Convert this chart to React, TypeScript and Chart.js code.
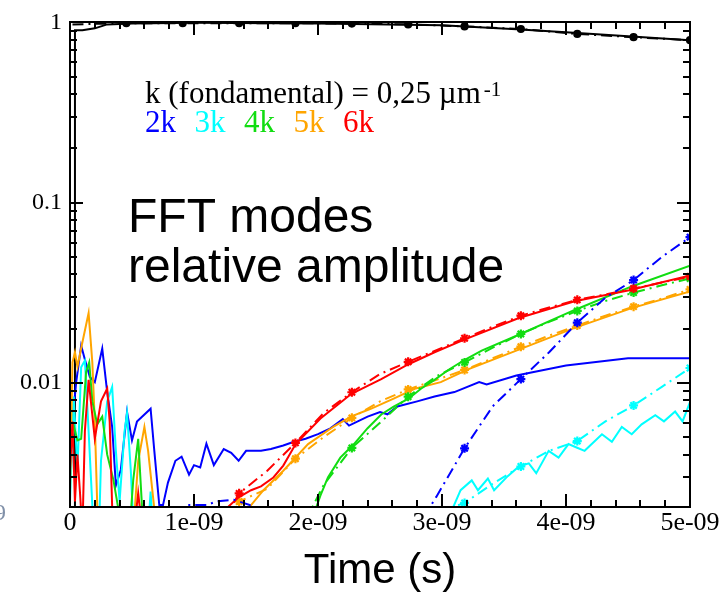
import { useEffect, useRef } from 'react';
import { Chart, registerables } from 'chart.js';

Chart.register(...registerables);

// time in ns, relative amplitude (values below the axis minimum run off the plot)
const BLACK_SOLID: [number, number][] = [
  [0.035, 0.001], [0.04, 0.904], [0.1, 0.904], [0.2, 0.927], [0.25, 0.951], [0.3, 0.975],
  [0.5, 0.987], [1.0, 0.994], [2.0, 0.987], [3.0, 0.963], [3.3, 0.939], [3.6, 0.916],
  [4.0, 0.882], [4.5, 0.839], [5.0, 0.797],
];
const BLACK_DD: [number, number][] = [
  [0.02, 0.975], [0.4545, 0.99], [0.909, 0.99], [1.364, 0.99], [1.818, 0.99], [2.273, 0.985],
  [2.727, 0.975], [3.182, 0.95], [3.636, 0.919], [4.091, 0.863], [4.545, 0.828], [5.0, 0.797],
];

const BLUE_SOLID: [number, number][] = [
  [0.0, 0.0035], [0.02, 0.0061], [0.05, 0.0101], [0.09, 0.0161], [0.12, 0.0135], [0.16, 0.0108],
  [0.2, 0.0101], [0.26, 0.0155], [0.3, 0.0089], [0.34, 0.0057], [0.37, 0.0027], [0.41, 0.0033],
  [0.46, 0.0069], [0.5, 0.0048], [0.54, 0.0061], [0.65, 0.0072], [0.68, 0.0042], [0.72, 0.0021],
  [0.75, 0.0021], [0.79, 0.0028], [0.85, 0.0037], [0.9, 0.0039], [0.96, 0.0031], [1.0, 0.0035],
  [1.05, 0.0034], [1.1, 0.0046], [1.16, 0.0035], [1.24, 0.0043], [1.3, 0.0041], [1.36, 0.0037],
  [1.42, 0.0042], [1.54, 0.0042], [1.62, 0.0043], [1.72, 0.0045], [1.8, 0.0047], [1.9, 0.0049],
  [2.0, 0.0052], [2.1, 0.0056], [2.2, 0.0063], [2.25, 0.0058], [2.4, 0.0065], [2.5, 0.0069],
  [2.56, 0.0067], [2.64, 0.0074], [2.8, 0.0079], [2.94, 0.0084], [3.1, 0.0089], [3.3, 0.0101],
  [3.36, 0.0098], [3.6, 0.011], [4.0, 0.0125], [4.5, 0.0137], [5.0, 0.0137],
];
const BLUE_DD: [number, number][] = [
  [0.88, 0.0013], [0.95, 0.0021], [1.1, 0.0021], [1.18, 0.0022], [1.32, 0.00225], [1.45, 0.0021],
  [1.5, 0.0013], [2.727, 0.0013], [2.955, 0.00234], [3.182, 0.00434], [3.409, 0.00742],
  [3.636, 0.0105], [3.864, 0.0148], [4.091, 0.0216], [4.318, 0.0297], [4.545, 0.0372],
  [4.773, 0.05], [5.0, 0.0644],
];

const CYAN_SOLID: [number, number][] = [
  [0.0, 0.0022], [0.03, 0.0084], [0.06, 0.0033], [0.09, 0.0122], [0.12, 0.0133], [0.15, 0.0054],
  [0.18, 0.0021], [0.2, 0.0012], [0.23, 0.0012], [0.25, 0.0037], [0.3, 0.0079], [0.34, 0.0095],
  [0.37, 0.0042], [0.4, 0.0022], [0.44, 0.0054], [0.46, 0.0068], [0.49, 0.0033], [0.52, 0.0012],
  [0.62, 0.0012], [0.65, 0.0025], [0.68, 0.0012], [3.0, 0.0012], [3.07, 0.0019], [3.15, 0.00254],
  [3.24, 0.00288], [3.29, 0.00254], [3.37, 0.00295], [3.42, 0.00254], [3.53, 0.00304],
  [3.62, 0.00344], [3.7, 0.00358], [3.76, 0.00316], [3.86, 0.0042], [3.94, 0.00385],
  [4.02, 0.00458], [4.09, 0.00437], [4.15, 0.0042], [4.29, 0.00519], [4.37, 0.00472],
  [4.45, 0.0057], [4.53, 0.00519], [4.61, 0.00589], [4.72, 0.00662], [4.79, 0.00612],
  [4.88, 0.00694], [4.94, 0.00612], [5.0, 0.00782],
];
const CYAN_DD: [number, number][] = [
  [2.955, 0.0019], [3.182, 0.00216], [3.409, 0.00276], [3.636, 0.00344], [3.864, 0.0042],
  [4.091, 0.00476], [4.318, 0.00612], [4.545, 0.0075], [4.773, 0.00951], [5.0, 0.0121],
];

const GREEN_SOLID: [number, number][] = [
  [0.0, 0.0048], [0.03, 0.0058], [0.06, 0.0048], [0.09, 0.0049], [0.13, 0.0115], [0.155, 0.013],
  [0.18, 0.0079], [0.22, 0.0059], [0.26, 0.0065], [0.3, 0.004], [0.35, 0.0029], [0.39, 0.002],
  [0.42, 0.0012], [0.47, 0.0012], [0.51, 0.0029], [0.55, 0.0049], [0.58, 0.0021], [0.6, 0.0012],
  [1.9, 0.0012], [1.97, 0.0019], [2.02, 0.00238], [2.08, 0.00299], [2.18, 0.00385],
  [2.29, 0.00458], [2.4, 0.00561], [2.51, 0.00668], [2.61, 0.00739], [2.73, 0.00818],
  [2.83, 0.00928], [2.94, 0.0104], [3.05, 0.0118], [3.18, 0.0134], [3.32, 0.0151],
  [3.62, 0.0185], [4.07, 0.0254], [4.53, 0.0343], [5.0, 0.0447],
];
const GREEN_DD: [number, number][] = [
  [1.818, 0.0013], [1.93, 0.0019], [2.045, 0.00271], [2.273, 0.00436], [2.5, 0.00601],
  [2.727, 0.00839], [2.955, 0.0109], [3.182, 0.013], [3.409, 0.0157], [3.636, 0.0187],
  [3.864, 0.0218], [4.091, 0.0251], [4.318, 0.0285], [4.545, 0.0317], [4.773, 0.0348], [5.0, 0.038],
];

const ORANGE_SOLID: [number, number][] = [
  [0.0, 0.0025], [0.02, 0.013], [0.04, 0.0148], [0.06, 0.0123], [0.1, 0.0168], [0.15, 0.0244],
  [0.18, 0.013], [0.2, 0.0061], [0.23, 0.0012], [0.5, 0.0012], [0.55, 0.0037], [0.6, 0.0057],
  [0.63, 0.0042], [0.68, 0.002], [0.7, 0.0012], [1.38, 0.0012], [1.46, 0.0021], [1.56, 0.00254],
  [1.72, 0.00326], [1.92, 0.00458], [2.13, 0.00575], [2.27, 0.00652], [2.43, 0.00721],
  [2.61, 0.00818], [2.78, 0.00928], [2.99, 0.0101], [3.21, 0.0119], [3.62, 0.0153],
  [4.07, 0.0202], [4.53, 0.026], [5.0, 0.0322],
];
const ORANGE_DD: [number, number][] = [
  [1.136, 0.0013], [1.364, 0.0022], [1.591, 0.00259], [1.818, 0.0038], [2.045, 0.005],
  [2.273, 0.0064], [2.5, 0.0079], [2.727, 0.0092], [2.955, 0.0104], [3.182, 0.0118],
  [3.409, 0.0137], [3.636, 0.0159], [3.864, 0.0183], [4.091, 0.0208], [4.318, 0.0236],
  [4.545, 0.0265], [4.773, 0.0294], [5.0, 0.033],
];

const RED_SOLID: [number, number][] = [
  [0.0, 0.0033], [0.02, 0.0061], [0.04, 0.0022], [0.06, 0.004], [0.08, 0.0025], [0.1, 0.0015],
  [0.12, 0.0054], [0.15, 0.0104], [0.2, 0.0049], [0.25, 0.0079], [0.3, 0.0093], [0.32, 0.0061],
  [0.35, 0.0012], [0.5, 0.0012], [0.55, 0.00245], [0.6, 0.0012], [1.2, 0.0012], [1.28, 0.00207],
  [1.36, 0.00232], [1.46, 0.00254], [1.54, 0.00267], [1.64, 0.00299], [1.72, 0.00348],
  [1.82, 0.00458], [2.02, 0.00635], [2.27, 0.00871], [2.51, 0.0105], [2.73, 0.0127],
  [2.94, 0.0148], [3.18, 0.0174], [3.62, 0.0229], [4.07, 0.0284], [4.51, 0.0327], [5.0, 0.0394],
];
const RED_DD: [number, number][] = [
  [1.136, 0.0013], [1.364, 0.00244], [1.591, 0.00326], [1.818, 0.00465], [2.045, 0.0068],
  [2.273, 0.00888], [2.5, 0.0112], [2.727, 0.0131], [2.955, 0.0152], [3.182, 0.0177],
  [3.409, 0.0205], [3.636, 0.0236], [3.864, 0.0262], [4.091, 0.0289], [4.318, 0.031],
  [4.545, 0.0334], [4.773, 0.0361], [5.0, 0.0389],
];

const X_TICKS_NS = [0, 1, 2, 3, 4, 5];
const X_TICK_LABELS = ['0', '1e-09', '2e-09', '3e-09', '4e-09', '5e-09'];
const Y_TICKS = [0.01, 0.1, 1];
const Y_TICK_LABELS = ['0.01', '0.1', '1'];
const X_TITLE = 'Time (s)';
const LEGEND_TITLE = 'k (fondamental) = 0,25 \u00b5m';
const LEGEND_SUP = '-1';
const MODE_LABELS = ['2k', '3k', '4k', '5k', '6k'];
const NOTE_LINES = ['FFT modes', 'relative amplitude'];

const BLUE = '#0000ff';
const CYAN = '#00ffff';
const GREEN = '#11dd11';
const ORANGE = '#ffa500';
const RED = '#ff0000';
const MODE_COLORS = [BLUE, CYAN, GREEN, ORANGE, RED];
const MARKER_STEP_NS = 5 / 11;
const X_MIN = 0;
const X_MAX = 5e-9;
const Y_MIN = 0.00205;
const Y_MAX = 1;

const toPoints = (arr: [number, number][]) => arr.map(([t, v]) => ({ x: t * 1e-9, y: v }));

const isMarker = (ctx: any) => {
  const raw = ctx.raw;
  if (!raw) return false;
  const k = (raw.x * 1e9) / MARKER_STEP_NS;
  return Math.round(k) > 0 && Math.abs(k - Math.round(k)) < 0.04;
};

const solid = (data: [number, number][], color: string) => ({
  data: toPoints(data),
  borderColor: color,
  backgroundColor: color,
  borderWidth: 2,
  pointRadius: 0,
  tension: 0,
});

const dashDot = (data: [number, number][], color: string, style = 'star', r = 4.5) => ({
  data: toPoints(data),
  borderColor: color,
  backgroundColor: color,
  borderWidth: 2,
  borderDash: [11, 5, 2, 5],
  pointStyle: style,
  pointRadius: (ctx: any) => (isMarker(ctx) ? r : 0),
  pointBorderWidth: 2.2,
  tension: 0,
});

const decorations = {
  id: 'decorations',
  afterDraw(chart: any) {
    const ctx = chart.ctx;
    const area = chart.chartArea;
    const L = Math.round(area.left);
    const R = Math.round(area.right);
    const T = Math.round(area.top);
    const B = Math.round(area.bottom);
    const xPix = (v: number) => {
      const p = chart.scales.x.getPixelForValue(v);
      return Number.isFinite(p) ? p : L + ((v - X_MIN) / (X_MAX - X_MIN)) * (R - L);
    };
    const yPix = (v: number) => {
      const p = chart.scales.y.getPixelForValue(v);
      if (Number.isFinite(p)) return p;
      const lo = Math.log10(Y_MIN);
      const hi = Math.log10(Y_MAX);
      return B - ((Math.log10(v) - lo) / (hi - lo)) * (B - T);
    };
    ctx.save();
    ctx.setTransform(1, 0, 0, 1, 0, 0);
    ctx.globalCompositeOperation = 'source-over';
    ctx.globalAlpha = 1;
    ctx.shadowColor = 'rgba(0,0,0,0)';
    ctx.fillStyle = '#000000';
    for (let i = 0; i <= 25; i++) {
      const px = Math.round(xPix(i * 0.2e-9));
      const len = i % 5 === 0 ? 13 : 7;
      ctx.fillRect(px - 1, B - len, 2, len);
      ctx.fillRect(px - 1, T, 2, len);
    }
    for (let e = -3; e <= 0; e++) {
      for (let m = 1; m <= 9; m++) {
        const v = m * Math.pow(10, e);
        if (v < Y_MIN * 0.999 || v > Y_MAX * 1.001) continue;
        const py = Math.round(yPix(v));
        const len = m === 1 ? 13 : 7;
        ctx.fillRect(L, py - 1, len, 2);
        ctx.fillRect(R - len, py - 1, len, 2);
      }
    }
    ctx.fillRect(L - 1, T - 1, R - L + 2, 2);
    ctx.fillRect(L - 1, B - 1, R - L + 2, 2);
    ctx.fillRect(L - 1, T - 1, 2, B - T + 2);
    ctx.fillRect(R - 1, T - 1, 2, B - T + 2);

    ctx.textBaseline = 'alphabetic';
    ctx.textAlign = 'left';
    ctx.font = '31px "Liberation Serif"';
    ctx.fillText(LEGEND_TITLE, 145, 103);
    const w = ctx.measureText(LEGEND_TITLE).width;
    ctx.font = '21px "Liberation Serif"';
    ctx.fillText(LEGEND_SUP, 145 + w + 3, 96);
    ctx.font = '31px "Liberation Serif"';
    MODE_LABELS.forEach((t, i) => {
      ctx.fillStyle = MODE_COLORS[i];
      ctx.fillText(t, 145 + i * 49.5, 132);
    });
    ctx.fillStyle = '#000';
    ctx.font = '48px "Liberation Sans"';
    ctx.fillText(NOTE_LINES[0], 128, 232);
    ctx.fillText(NOTE_LINES[1], 128, 282);
    ctx.fillStyle = '#8090a8';
    ctx.font = '24px "Liberation Serif"';
    ctx.fillText('9', -6, 520);
    ctx.restore();
  },
};

export default function App() {
  const ref = useRef<HTMLCanvasElement | null>(null);

  useEffect(() => {
    document.body.style.margin = '0';
    const canvas = ref.current;
    if (!canvas) return;
    const chart = new Chart(canvas, {
      type: 'line',
      data: {
        datasets: [
          dashDot(BLUE_DD, BLUE),
          solid(RED_SOLID, RED),
          dashDot(RED_DD, RED),
          solid(GREEN_SOLID, GREEN),
          dashDot(GREEN_DD, GREEN),
          solid(ORANGE_SOLID, ORANGE),
          dashDot(ORANGE_DD, ORANGE),
          solid(CYAN_SOLID, CYAN),
          dashDot(CYAN_DD, CYAN),
          solid(BLUE_SOLID, BLUE),
          solid(BLACK_SOLID, '#000'),
          dashDot(BLACK_DD, '#000', 'circle', 3),
        ] as any,
      },
      options: {
        animation: false,
        responsive: false,
        events: [],
        layout: { padding: { left: 0, right: 31, top: 15, bottom: 0 } },
        plugins: { legend: { display: false }, tooltip: { enabled: false } },
        scales: {
          x: {
            type: 'linear',
            min: X_MIN,
            max: X_MAX,
            grid: { display: false, tickLength: 0, drawTicks: false },
            border: { display: false },
            afterBuildTicks: (scale: any) => {
              scale.ticks = X_TICKS_NS.map((v) => ({ value: v * 1e-9 }));
            },
            afterFit: (scale: any) => {
              scale.height = 89;
            },
            ticks: {
              autoSkip: false,
              maxRotation: 0,
              padding: 1,
              color: '#000',
              font: { family: 'Liberation Serif', size: 26 },
              callback: (_v: any, i: number) => X_TICK_LABELS[i],
            },
            title: {
              display: true,
              text: X_TITLE,
              color: '#000',
              font: { family: 'Liberation Sans', size: 42, lineHeight: 1.15 },
              padding: { top: 0, bottom: 0 },
            },
          },
          y: {
            type: 'logarithmic',
            min: Y_MIN,
            max: Y_MAX,
            grid: { display: false, tickLength: 0, drawTicks: false },
            border: { display: false },
            afterBuildTicks: (scale: any) => {
              scale.ticks = Y_TICKS.map((v) => ({ value: v }));
            },
            afterFit: (scale: any) => {
              scale.width = 70;
            },
            ticks: {
              autoSkip: false,
              padding: 8,
              color: '#000',
              font: { family: 'Liberation Serif', size: 24 },
              callback: (_v: any, i: number) => Y_TICK_LABELS[i],
            },
          },
        },
      } as any,
      plugins: [decorations],
    });
    return () => chart.destroy();
  }, []);

  return (
    <div style={{ width: 721, height: 596, background: '#fff' }}>
      <canvas ref={ref} width={721} height={596} style={{ display: 'block' }} />
    </div>
  );
}
